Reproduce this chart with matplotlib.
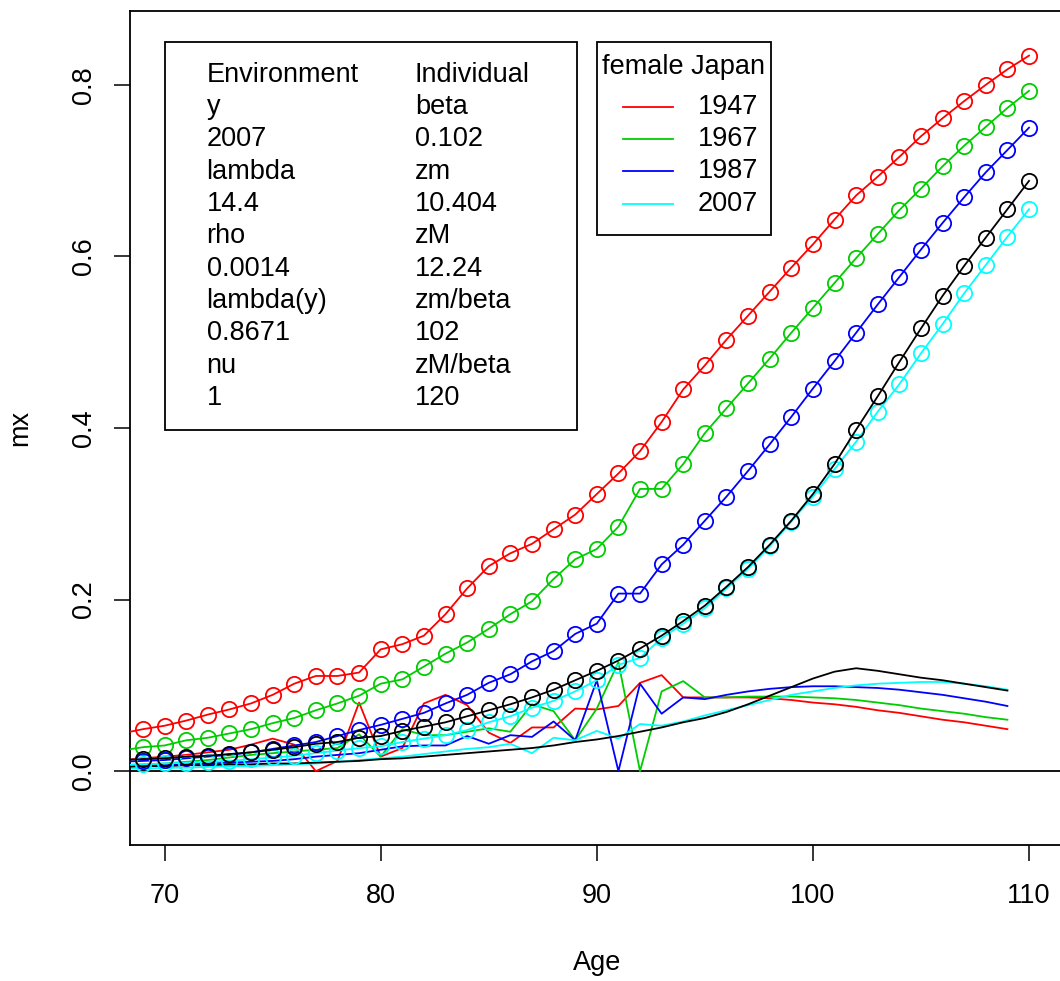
import matplotlib
matplotlib.use("Agg")
import matplotlib.pyplot as plt
from matplotlib.patches import Rectangle

plt.rcParams['font.family'] = ['Liberation Sans', 'DejaVu Sans']

# ---------------- data ----------------
ages = list(range(68, 111))          # ages with circle markers (68..110)
ages_d = list(range(68, 110))        # ages for thin lines (68..109)

mx_1947 = [0.044, 0.049, 0.053, 0.059, 0.066, 0.072, 0.079, 0.089, 0.102, 0.111,
           0.111, 0.115, 0.142, 0.148, 0.158, 0.183, 0.213, 0.239, 0.254, 0.265,
           0.282, 0.299, 0.323, 0.347, 0.373, 0.407, 0.445, 0.473, 0.503, 0.531,
           0.559, 0.587, 0.614, 0.643, 0.671, 0.693, 0.716, 0.740, 0.761, 0.781,
           0.800, 0.818, 0.834]
mx_1967 = [0.024, 0.028, 0.030, 0.036, 0.039, 0.044, 0.049, 0.056, 0.062, 0.071,
           0.079, 0.088, 0.102, 0.107, 0.122, 0.137, 0.150, 0.166, 0.183, 0.198,
           0.224, 0.247, 0.259, 0.285, 0.329, 0.329, 0.358, 0.394, 0.423, 0.452,
           0.481, 0.511, 0.540, 0.569, 0.598, 0.626, 0.654, 0.679, 0.705, 0.729,
           0.751, 0.773, 0.793]
mx_1987 = [0.011, 0.012, 0.013, 0.015, 0.017, 0.019, 0.022, 0.026, 0.030, 0.034,
           0.041, 0.048, 0.054, 0.061, 0.068, 0.079, 0.089, 0.103, 0.113, 0.128,
           0.140, 0.160, 0.172, 0.207, 0.207, 0.241, 0.264, 0.292, 0.320, 0.350,
           0.381, 0.413, 0.446, 0.478, 0.511, 0.544, 0.576, 0.608, 0.639, 0.669,
           0.698, 0.724, 0.750]
mx_2007 = [0.007, 0.008, 0.009, 0.010, 0.011, 0.012, 0.014, 0.016, 0.018, 0.021,
           0.024, 0.027, 0.029, 0.034, 0.038, 0.042, 0.048, 0.057, 0.064, 0.074,
           0.082, 0.093, 0.106, 0.124, 0.132, 0.155, 0.172, 0.190, 0.213, 0.236,
           0.262, 0.291, 0.320, 0.352, 0.384, 0.419, 0.451, 0.487, 0.521, 0.557,
           0.590, 0.623, 0.655]
mx_model = [0.013, 0.014, 0.015, 0.017, 0.018, 0.020, 0.022, 0.025, 0.028, 0.032,
            0.034, 0.039, 0.041, 0.047, 0.052, 0.057, 0.064, 0.071, 0.078, 0.086,
            0.095, 0.106, 0.117, 0.129, 0.143, 0.158, 0.175, 0.193, 0.215, 0.238,
            0.264, 0.292, 0.323, 0.358, 0.398, 0.437, 0.477, 0.516, 0.554, 0.589,
            0.622, 0.655, 0.688]

d_1947 = [0.013, 0.015, 0.017, 0.019, 0.022, 0.025, 0.031, 0.038, 0.031, 0.000,
          0.012, 0.080, 0.017, 0.027, 0.079, 0.089, 0.077, 0.045, 0.033, 0.051,
          0.051, 0.073, 0.072, 0.076, 0.103, 0.112, 0.086, 0.086, 0.086, 0.086,
          0.085, 0.083, 0.080, 0.078, 0.075, 0.071, 0.068, 0.064, 0.060, 0.057,
          0.053, 0.049]
d_1967 = [0.007, 0.008, 0.009, 0.011, 0.013, 0.016, 0.019, 0.021, 0.023, 0.025,
          0.027, 0.043, 0.017, 0.049, 0.042, 0.042, 0.046, 0.050, 0.046, 0.078,
          0.070, 0.036, 0.073, 0.127, 0.000, 0.093, 0.105, 0.086, 0.086, 0.087,
          0.087, 0.087, 0.086, 0.085, 0.083, 0.080, 0.077, 0.073, 0.070, 0.067,
          0.063, 0.060]
d_1987 = [0.005, 0.006, 0.007, 0.008, 0.009, 0.010, 0.011, 0.012, 0.014, 0.017,
          0.019, 0.021, 0.025, 0.029, 0.030, 0.030, 0.041, 0.032, 0.042, 0.040,
          0.058, 0.036, 0.106, 0.000, 0.102, 0.067, 0.086, 0.084, 0.089, 0.093,
          0.096, 0.098, 0.099, 0.099, 0.098, 0.097, 0.095, 0.092, 0.089, 0.085,
          0.081, 0.076]
d_2007 = [0.003, 0.003, 0.004, 0.004, 0.005, 0.006, 0.006, 0.007, 0.008, 0.009,
          0.011, 0.013, 0.015, 0.017, 0.020, 0.023, 0.026, 0.028, 0.032, 0.021,
          0.039, 0.036, 0.047, 0.038, 0.055, 0.053, 0.058, 0.065, 0.071, 0.077,
          0.083, 0.089, 0.093, 0.097, 0.100, 0.102, 0.103, 0.104, 0.104, 0.102,
          0.099, 0.095]
d_model = [0.005, 0.006, 0.006, 0.007, 0.007, 0.008, 0.008, 0.009, 0.009, 0.010,
           0.011, 0.012, 0.014, 0.015, 0.017, 0.019, 0.021, 0.023, 0.025, 0.027,
           0.030, 0.034, 0.037, 0.041, 0.046, 0.051, 0.057, 0.062, 0.069, 0.078,
           0.088, 0.098, 0.108, 0.116, 0.120, 0.117, 0.113, 0.109, 0.106, 0.102,
           0.098, 0.094]

years = ["1947", "1967", "1987", "2007"]
colors = ["#FF0000", "#00CD00", "#0000FF", "#00FFFF"]
mx_series = [mx_1947, mx_1967, mx_1987, mx_2007]
d_series = [d_1947, d_1967, d_1987, d_2007]

env_labels = ["Environment", "y", "2007", "lambda", "14.4", "rho", "0.0014",
              "lambda(y)", "0.8671", "nu", "1"]
ind_labels = ["Individual", "beta", "0.102", "zm", "10.404", "zM", "12.24",
              "zm/beta", "102", "zM/beta", "120"]
legend_title = "female Japan"

# ---------------- figure ----------------
W, H = 1060, 981
fig = plt.figure(figsize=(W / 100, H / 100), dpi=100)
ax = fig.add_axes([130 / W, 136 / H, 933.6 / W, 834 / H])
ax.set_xlim(68.4, 111.6)
ax.set_ylim(-0.086, 0.886)

FS = 19.5
LW = 1.3
MS = 11.0

# thin lines
for d, c in zip(d_series, colors):
    ax.plot(ages_d, d, color=c, lw=LW, zorder=2)
ax.plot(ages_d, d_model, color="black", lw=LW, zorder=2)

# circled lines
for m, c in zip(mx_series, colors):
    ax.plot(ages, m, color=c, lw=LW, marker="o", ms=MS, mfc="none",
            mec=c, mew=LW, zorder=3)
ax.plot(ages, mx_model, color="black", lw=LW, marker="o", ms=MS, mfc="none",
        mec="black", mew=LW, zorder=4)

ax.axhline(0, color="black", lw=LW, zorder=1)

# axes styling (R look)
for s in ax.spines.values():
    s.set_linewidth(1.3)
ax.set_xticks([70, 80, 90, 100, 110])
ax.set_yticks([0.0, 0.2, 0.4, 0.6, 0.8])
ax.set_yticklabels(["0.0", "0.2", "0.4", "0.6", "0.8"], rotation=90, va="center")
ax.tick_params(axis="both", length=11.5, width=1.1, labelsize=FS)
ax.tick_params(axis="x", pad=16)
ax.tick_params(axis="y", pad=12)
fig.text(597 / W, 1 - 963 / H, "Age", ha="center", va="center", fontsize=FS)
fig.text(20 / W, 1 - 428 / H, "mx", ha="center", va="center", fontsize=FS, rotation=90)


def px2x(px):
    return 70 + (px - 165) / 21.6


def py2y(py):
    return (773 - py) / 860


# ---------------- legend 1 (parameters) ----------------
ax.add_patch(Rectangle((70, py2y(431)), px2x(577) - 70, 0.85 - py2y(431),
                       fill=False, ec="black", lw=1.3, zorder=5))
for i, (a, b) in enumerate(zip(env_labels, ind_labels)):
    yy = py2y(75 + 32.4 * i)
    ax.text(px2x(207), yy, a, fontsize=FS, ha="left", va="center", zorder=6)
    ax.text(px2x(415), yy, b, fontsize=FS, ha="left", va="center", zorder=6)

# ---------------- legend 2 (years) ----------------
ax.add_patch(Rectangle((90, py2y(236)), px2x(771) - 90, 0.85 - py2y(236),
                       fill=False, ec="black", lw=1.3, zorder=5))
ax.text(px2x(684), py2y(67), legend_title, fontsize=FS, ha="center", va="center", zorder=6)
for i, (yr, c) in enumerate(zip(years, colors)):
    yy = py2y(107 + 32.4 * i)
    ax.plot([px2x(623), px2x(673)], [yy, yy], color=c, lw=LW, zorder=6)
    ax.text(px2x(698), yy, yr, fontsize=FS, ha="left", va="center", zorder=6)

fig.savefig("out.png", dpi=100)
